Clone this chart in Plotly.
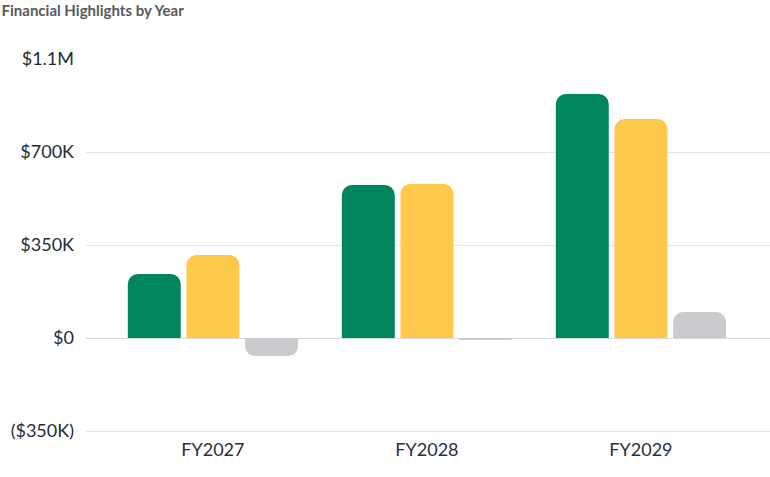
import plotly.graph_objects as go

categories = ["FY2027", "FY2028", "FY2029"]
series_a = [241000, 576000, 918000]
series_b = [312000, 580000, 824000]
series_c = [-68000, -4000, 98000]
tick_vals = [-350000, 0, 350000, 700000, 1050000]
tick_text = ["($350K)", "$0", "$350K", "$700K", "$1.1M"]

colors = ["#00855F", "#FFC94C", "#C9CBCF"]

fig = go.Figure()
for vals, col in zip([series_a, series_b, series_c], colors):
    fig.add_trace(go.Bar(x=categories, y=vals, marker=dict(color=col, line=dict(width=0)),
                         showlegend=False))

font_family = "Lato, 'Open Sans', sans-serif"
fig.update_layout(
    width=770, height=477,
    margin=dict(l=86, r=0, t=59, b=44),
    paper_bgcolor="white", plot_bgcolor="white",
    barmode="group", bargap=0.178, bargroupgap=0.097,
    barcornerradius=10,
    font=dict(family=font_family, color="#222B3A"),
    title=dict(text="<b>Financial Highlights by Year</b>", x=0.002, xref="container", xanchor="left",
               y=0.988, yanchor="top", font=dict(size=15, color="#555A60", family=font_family)),
    xaxis=dict(range=[-0.593, 2.603], showgrid=False, zeroline=False, showline=False,
               ticks="", ticklabelstandoff=4, tickfont=dict(size=18, color="#2A2F3A")),
    yaxis=dict(range=[-357500, 1050000], tickvals=tick_vals, ticktext=tick_text,
               showgrid=True, gridcolor="#E6E6E6", gridwidth=1,
               zeroline=True, zerolinecolor="#D9D9D9", zerolinewidth=1,
               ticks="", ticklabelstandoff=11, tickfont=dict(size=18, color="#222B3A")),
)

fig.write_html("out.html", config={"displayModeBar": False},
               post_script="document.body.style.margin='0';")
